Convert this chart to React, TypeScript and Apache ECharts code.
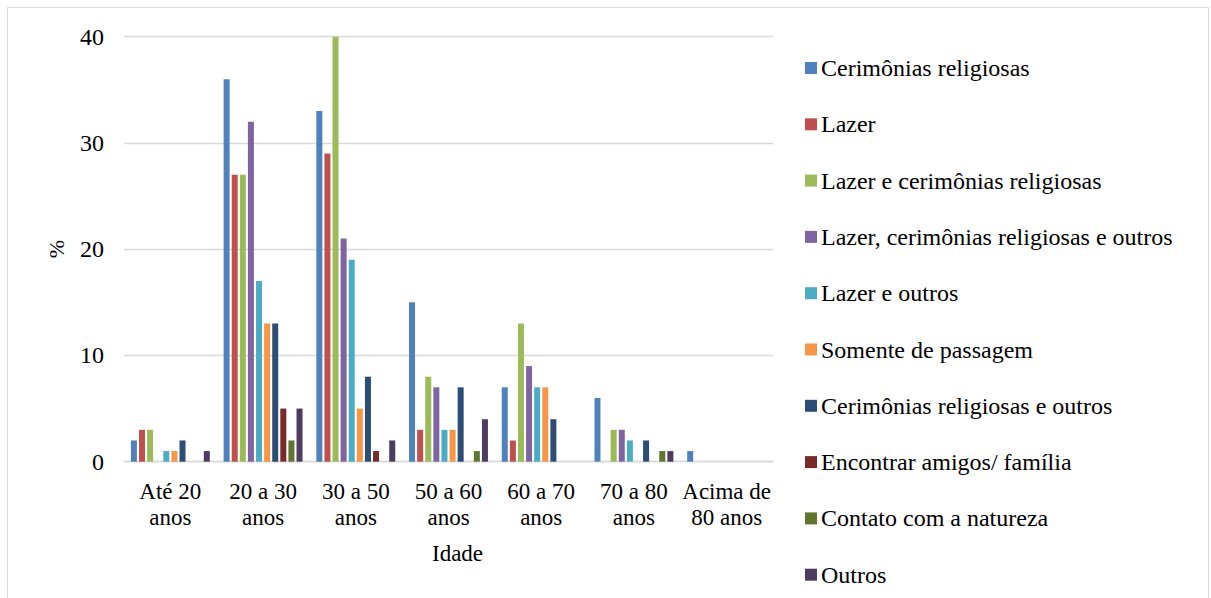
import React, { useEffect, useRef } from "react";
import * as echarts from "echarts";

const categories = [
  "Até 20\nanos",
  "20 a 30\nanos",
  "30 a 50\nanos",
  "50 a 60\nanos",
  "60 a 70\nanos",
  "70 a 80\nanos",
  "Acima de\n80 anos",
];

const seriesNames = [
  "Cerimônias religiosas",
  "Lazer",
  "Lazer e cerimônias religiosas",
  "Lazer, cerimônias religiosas e outros",
  "Lazer e outros",
  "Somente de passagem",
  "Cerimônias religiosas e outros",
  "Encontrar amigos/ família",
  "Contato com a natureza",
  "Outros",
];

const cerimonias = [2, 36, 33, 15, 7, 6, 1];
const lazer = [3, 27, 29, 3, 2, 0, 0];
const lazerCerimonias = [3, 27, 40, 8, 13, 3, 0];
const lazerCerimoniasOutros = [0, 32, 21, 7, 9, 3, 0];
const lazerOutros = [1, 17, 19, 3, 7, 2, 0];
const somentePassagem = [1, 13, 5, 3, 7, 0, 0];
const cerimoniasOutros = [2, 13, 8, 7, 4, 2, 0];
const encontrarAmigos = [0, 5, 1, 0, 0, 0, 0];
const contatoNatureza = [0, 2, 0, 1, 0, 1, 0];
const outros = [1, 5, 2, 4, 0, 1, 0];

const seriesValues = [
  cerimonias,
  lazer,
  lazerCerimonias,
  lazerCerimoniasOutros,
  lazerOutros,
  somentePassagem,
  cerimoniasOutros,
  encontrarAmigos,
  contatoNatureza,
  outros,
];

const colors = [
  "#4F81BD",
  "#C0504D",
  "#9BBB59",
  "#8064A2",
  "#4BACC6",
  "#F79646",
  "#2C4D75",
  "#772C2A",
  "#5F7530",
  "#4D3B62",
];

const FONT = "Liberation Serif";

export default function App() {
  const ref = useRef<HTMLDivElement>(null);
  useEffect(() => {
    if (!ref.current) return;
    const chart = echarts.init(ref.current, null, { renderer: "svg" });
    chart.setOption({
      animation: false,
      color: colors,
      textStyle: { fontFamily: FONT, color: "#000" },
      graphic: [
        {
          type: "rect",
          shape: { x: 7.5, y: 7.5, width: 1201, height: 600 },
          style: { fill: "none", stroke: "#d9d9d9", lineWidth: 1 },
          silent: true,
        },
      ],
      grid: { left: 124, right: 438, top: 36.7, bottom: 136.3 },
      legend: {
        orient: "vertical",
        left: 805,
        top: 56,
        padding: 0,
        itemWidth: 12,
        itemHeight: 12,
        itemGap: 32.3,
        icon: "rect",
        data: seriesNames,
        textStyle: {
          fontFamily: FONT,
          fontSize: 24,
          lineHeight: 24,
          color: "#000",
          padding: [0, 0, 0, -1],
        },
      },
      xAxis: {
        type: "category",
        data: categories,
        name: "Idade",
        nameLocation: "middle",
        nameGap: 80,
        nameTextStyle: {
          fontFamily: FONT,
          fontSize: 23,
          color: "#000",
          padding: [0, 0, 0, 18],
        },
        axisLine: { lineStyle: { color: "#d9d9d9", width: 1.3 } },
        axisTick: { show: false },
        axisLabel: {
          interval: 0,
          fontFamily: FONT,
          fontSize: 23,
          lineHeight: 26,
          color: "#000",
          margin: 17,
        },
      },
      yAxis: {
        type: "value",
        min: 0,
        max: 40,
        interval: 10,
        name: "%",
        nameLocation: "middle",
        nameGap: 57,
        nameTextStyle: { fontFamily: FONT, fontSize: 22, color: "#000" },
        axisLine: { show: false },
        axisTick: { show: false },
        splitLine: { lineStyle: { color: "#d9d9d9", width: 1.3 } },
        axisLabel: {
          fontFamily: FONT,
          fontSize: 24,
          color: "#000",
          margin: 20,
        },
      },
      series: seriesNames.map((name, i) => ({
        name,
        type: "bar",
        data: seriesValues[i],
        barWidth: 6,
        barGap: "35%",
        itemStyle: { color: colors[i] },
      })),
    });
    return () => chart.dispose();
  }, []);
  return (
    <div
      ref={ref}
      style={{ position: "absolute", left: 0, top: 0, width: 1211, height: 598 }}
    />
  );
}
